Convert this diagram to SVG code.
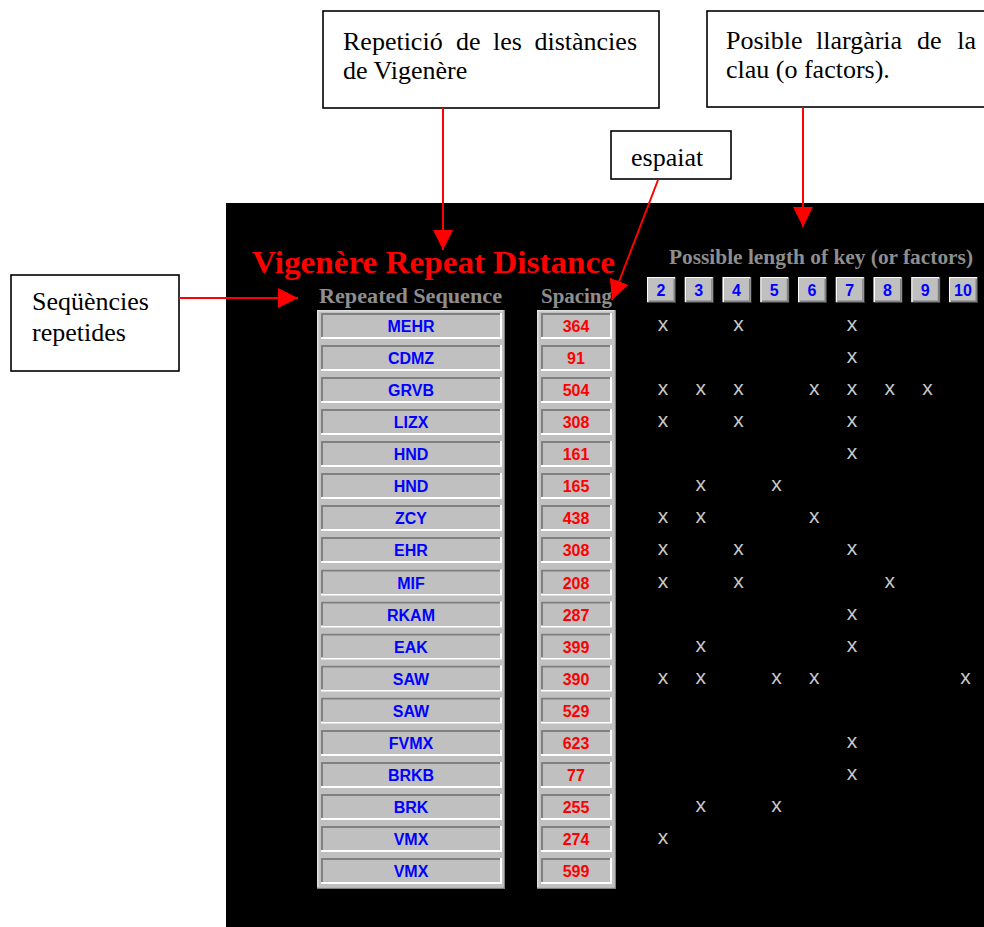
<svg xmlns="http://www.w3.org/2000/svg" xmlns:xlink="http://www.w3.org/1999/xlink" width="984" height="927" viewBox="0 0 984 927">
<style>
.call{fill:#fff;stroke:#000;stroke-width:1.6}
.ct{font-family:"Liberation Serif","Times New Roman",serif;font-size:26px;fill:#000}
.conn{stroke:#ff0000;stroke-width:2;fill:none}
.title{font-family:"Liberation Serif","Times New Roman",serif;font-weight:bold;font-size:32px;fill:#ff0000}
.hdr{font-family:"Liberation Serif","Times New Roman",serif;font-weight:bold;font-size:20px;fill:#8e8e8e}
.seq{font-family:"Liberation Sans",Arial,sans-serif;font-weight:bold;font-size:16px;fill:#0000ff;text-anchor:middle}
.num{font-family:"Liberation Sans",Arial,sans-serif;font-weight:bold;font-size:16px;fill:#ff0000;text-anchor:middle}
.btn{font-family:"Liberation Sans",Arial,sans-serif;font-weight:bold;font-size:16px;fill:#0000ff;text-anchor:middle}
.x{font-family:"Liberation Sans",Arial,sans-serif;font-size:21px;fill:#c8c8c8;text-anchor:middle}
</style>
<defs>
<marker id="ah" markerUnits="userSpaceOnUse" markerWidth="20" markerHeight="20" refX="20" refY="10" orient="auto" viewBox="0 0 20 20">
<path d="M0,0 L20,10 L0,20 z" fill="#ff0000"/>
</marker>
<g id="cellA">
<rect x="321" y="0" width="181" height="26" fill="#ffffff"/>
<rect x="321" y="0" width="179" height="24" fill="#808080"/>
<rect x="323" y="2" width="177" height="22" fill="#c0c0c0"/>
</g>
<g id="cellB">
<rect x="541" y="0" width="71" height="26" fill="#ffffff"/>
<rect x="541" y="0" width="69" height="24" fill="#808080"/>
<rect x="543" y="2" width="67" height="22" fill="#c0c0c0"/>
</g>
<g id="btnShape">
<rect x="0" y="0" width="29" height="26" fill="#404040"/>
<rect x="0" y="0" width="28" height="25" fill="#ffffff"/>
<rect x="1.5" y="1.5" width="26.5" height="23.5" fill="#808080"/>
<rect x="1.5" y="1.5" width="25" height="22" fill="#c0c0c0"/>
</g>
</defs>
<rect width="984" height="927" fill="#ffffff"/>
<rect id="panel" x="226" y="203" width="758" height="724" fill="#000000"/>

<g id="callout-repeticio">
<rect class="call" x="323" y="11" width="336" height="97"/>
<text class="ct" x="343" y="50">Repetició</text>
<text class="ct" x="456" y="50">de</text>
<text class="ct" x="493" y="50">les</text>
<text class="ct" x="637" y="50" text-anchor="end">distàncies</text>
<text class="ct" x="343" y="79">de Vigenère</text>
</g>
<g id="callout-llargaria">
<rect class="call" x="707" y="11" width="340" height="96"/>
<text class="ct" x="726" y="49">Posible</text>
<text class="ct" x="816" y="49">llargària</text>
<text class="ct" x="917" y="49">de</text>
<text class="ct" x="976" y="49" text-anchor="end">la</text>
<text class="ct" x="726" y="78">clau (o factors).</text>
</g>
<g id="callout-espaiat">
<rect class="call" x="611" y="131" width="120" height="48"/>
<text class="ct" x="631" y="166">espaiat</text>
</g>
<g id="callout-sequencies">
<rect class="call" x="11" y="275" width="168" height="96"/>
<text class="ct" x="32" y="310">Seqüències</text>
<text class="ct" x="32" y="341">repetides</text>
</g>

<g id="connectors">
<line class="conn" x1="443" y1="108" x2="443" y2="250" marker-end="url(#ah)"/>
<line class="conn" x1="803" y1="107" x2="803" y2="227" marker-end="url(#ah)"/>
<line class="conn" x1="658" y1="180" x2="612" y2="300" marker-end="url(#ah)"/>
<line class="conn" x1="179" y1="298" x2="298" y2="298" marker-end="url(#ah)"/>
</g>

<g id="title">
<text class="title" x="252" y="273" textLength="363" lengthAdjust="spacingAndGlyphs">Vigenère Repeat Distance</text>
</g>
<g id="headers">
<text class="hdr" x="319" y="303" textLength="183" lengthAdjust="spacingAndGlyphs">Repeated Sequence</text>
<text class="hdr" x="541" y="303" textLength="71" lengthAdjust="spacingAndGlyphs">Spacing</text>
<text class="hdr" x="669" y="264" textLength="304" lengthAdjust="spacingAndGlyphs">Possible length of key (or factors)</text>
</g>

<g id="key-buttons">
<use xlink:href="#btnShape" transform="translate(647,277)"/>
<use xlink:href="#btnShape" transform="translate(684.75,277)"/>
<use xlink:href="#btnShape" transform="translate(722.5,277)"/>
<use xlink:href="#btnShape" transform="translate(760.25,277)"/>
<use xlink:href="#btnShape" transform="translate(798,277)"/>
<use xlink:href="#btnShape" transform="translate(835.75,277)"/>
<use xlink:href="#btnShape" transform="translate(873.5,277)"/>
<use xlink:href="#btnShape" transform="translate(911.25,277)"/>
<use xlink:href="#btnShape" transform="translate(949,277)"/>
<text class="btn" x="661" y="296">2</text>
<text class="btn" x="698.75" y="296">3</text>
<text class="btn" x="736.5" y="296">4</text>
<text class="btn" x="774.25" y="296">5</text>
<text class="btn" x="812" y="296">6</text>
<text class="btn" x="849.75" y="296">7</text>
<text class="btn" x="887.5" y="296">8</text>
<text class="btn" x="925.25" y="296">9</text>
<text class="btn" x="963" y="296">10</text>
</g>

<g id="seq-column">
<rect x="317" y="310" width="188" height="579" fill="#808080"/>
<rect x="317" y="310" width="186.5" height="577.5" fill="#e0e0e0"/>
<rect x="318.5" y="311.5" width="185" height="576" fill="#c0c0c0"/>
</g>
<g id="spacing-column">
<rect x="537" y="310" width="79" height="579" fill="#808080"/>
<rect x="537" y="310" width="77.5" height="577.5" fill="#e0e0e0"/>
<rect x="538.5" y="311.5" width="76" height="576" fill="#c0c0c0"/>
</g>

<g id="row-1"><use xlink:href="#cellA" y="313"/><use xlink:href="#cellB" y="313"/><text class="seq" x="411" y="332">MEHR</text><text class="num" x="576" y="332">364</text><text class="x" x="663" y="331">x</text><text class="x" x="738.6" y="331">x</text><text class="x" x="852" y="331">x</text></g>
<g id="row-2"><use xlink:href="#cellA" y="345"/><use xlink:href="#cellB" y="345"/><text class="seq" x="411" y="364">CDMZ</text><text class="num" x="576" y="364">91</text><text class="x" x="852" y="363">x</text></g>
<g id="row-3"><use xlink:href="#cellA" y="377"/><use xlink:href="#cellB" y="377"/><text class="seq" x="411" y="396">GRVB</text><text class="num" x="576" y="396">504</text><text class="x" x="663" y="395">x</text><text class="x" x="700.8" y="395">x</text><text class="x" x="738.6" y="395">x</text><text class="x" x="814.2" y="395">x</text><text class="x" x="852" y="395">x</text><text class="x" x="889.8" y="395">x</text><text class="x" x="927.6" y="395">x</text></g>
<g id="row-4"><use xlink:href="#cellA" y="409"/><use xlink:href="#cellB" y="409"/><text class="seq" x="411" y="428">LIZX</text><text class="num" x="576" y="428">308</text><text class="x" x="663" y="427">x</text><text class="x" x="738.6" y="427">x</text><text class="x" x="852" y="427">x</text></g>
<g id="row-5"><use xlink:href="#cellA" y="441"/><use xlink:href="#cellB" y="441"/><text class="seq" x="411" y="460">HND</text><text class="num" x="576" y="460">161</text><text class="x" x="852" y="459">x</text></g>
<g id="row-6"><use xlink:href="#cellA" y="473"/><use xlink:href="#cellB" y="473"/><text class="seq" x="411" y="492">HND</text><text class="num" x="576" y="492">165</text><text class="x" x="700.8" y="491">x</text><text class="x" x="776.4" y="491">x</text></g>
<g id="row-7"><use xlink:href="#cellA" y="505"/><use xlink:href="#cellB" y="505"/><text class="seq" x="411" y="524">ZCY</text><text class="num" x="576" y="524">438</text><text class="x" x="663" y="523">x</text><text class="x" x="700.8" y="523">x</text><text class="x" x="814.2" y="523">x</text></g>
<g id="row-8"><use xlink:href="#cellA" y="537"/><use xlink:href="#cellB" y="537"/><text class="seq" x="411" y="556">EHR</text><text class="num" x="576" y="556">308</text><text class="x" x="663" y="555">x</text><text class="x" x="738.6" y="555">x</text><text class="x" x="852" y="555">x</text></g>
<g id="row-9"><use xlink:href="#cellA" y="569.5"/><use xlink:href="#cellB" y="569.5"/><text class="seq" x="411" y="588.5">MIF</text><text class="num" x="576" y="588.5">208</text><text class="x" x="663" y="587.5">x</text><text class="x" x="738.6" y="587.5">x</text><text class="x" x="889.8" y="587.5">x</text></g>
<g id="row-10"><use xlink:href="#cellA" y="601.5"/><use xlink:href="#cellB" y="601.5"/><text class="seq" x="411" y="620.5">RKAM</text><text class="num" x="576" y="620.5">287</text><text class="x" x="852" y="619.5">x</text></g>
<g id="row-11"><use xlink:href="#cellA" y="633.5"/><use xlink:href="#cellB" y="633.5"/><text class="seq" x="411" y="652.5">EAK</text><text class="num" x="576" y="652.5">399</text><text class="x" x="700.8" y="651.5">x</text><text class="x" x="852" y="651.5">x</text></g>
<g id="row-12"><use xlink:href="#cellA" y="665.5"/><use xlink:href="#cellB" y="665.5"/><text class="seq" x="411" y="684.5">SAW</text><text class="num" x="576" y="684.5">390</text><text class="x" x="663" y="683.5">x</text><text class="x" x="700.8" y="683.5">x</text><text class="x" x="776.4" y="683.5">x</text><text class="x" x="814.2" y="683.5">x</text><text class="x" x="965.4" y="683.5">x</text></g>
<g id="row-13"><use xlink:href="#cellA" y="697.5"/><use xlink:href="#cellB" y="697.5"/><text class="seq" x="411" y="716.5">SAW</text><text class="num" x="576" y="716.5">529</text></g>
<g id="row-14"><use xlink:href="#cellA" y="730"/><use xlink:href="#cellB" y="730"/><text class="seq" x="411" y="749">FVMX</text><text class="num" x="576" y="749">623</text><text class="x" x="852" y="748">x</text></g>
<g id="row-15"><use xlink:href="#cellA" y="762"/><use xlink:href="#cellB" y="762"/><text class="seq" x="411" y="781">BRKB</text><text class="num" x="576" y="781">77</text><text class="x" x="852" y="780">x</text></g>
<g id="row-16"><use xlink:href="#cellA" y="794"/><use xlink:href="#cellB" y="794"/><text class="seq" x="411" y="813">BRK</text><text class="num" x="576" y="813">255</text><text class="x" x="700.8" y="812">x</text><text class="x" x="776.4" y="812">x</text></g>
<g id="row-17"><use xlink:href="#cellA" y="826"/><use xlink:href="#cellB" y="826"/><text class="seq" x="411" y="845">VMX</text><text class="num" x="576" y="845">274</text><text class="x" x="663" y="844">x</text></g>
<g id="row-18"><use xlink:href="#cellA" y="858"/><use xlink:href="#cellB" y="858"/><text class="seq" x="411" y="877">VMX</text><text class="num" x="576" y="877">599</text></g>
</svg>
